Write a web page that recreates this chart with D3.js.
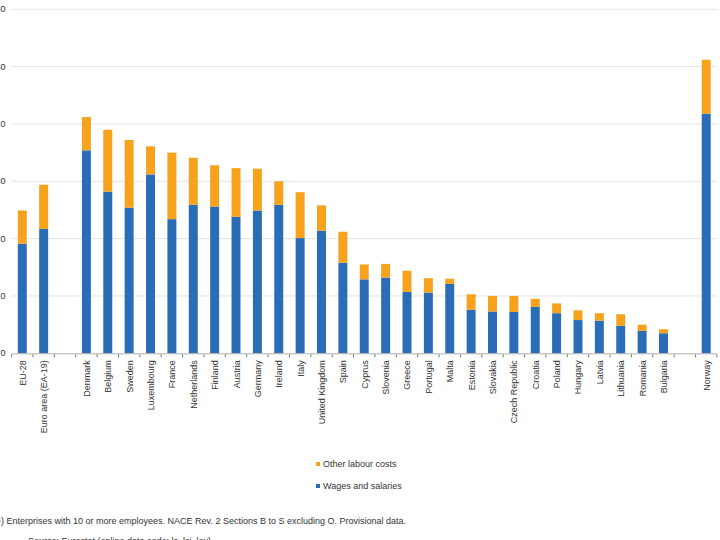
<!DOCTYPE html>
<html>
<head>
<meta charset="utf-8">
<script src="https://cdn.jsdelivr.net/npm/d3@7"></script>
<style>
  body { margin: 0; background: #fff; }
  svg { display: block; font-family: "Liberation Sans", Arial, sans-serif; }
  .grid line { stroke: #c8c8c8; stroke-dasharray: 1,1; }
  .lbl { font-size: 9px; fill: #333; }
</style>
</head>
<body>
<script>
// gaps in the category list are null
var categories = ["EU-28", "Euro area (EA-19)", null, "Denmark", "Belgium", "Sweden", "Luxembourg",
    "France", "Netherlands", "Finland", "Austria", "Germany", "Ireland", "Italy", "United Kingdom",
    "Spain", "Cyprus", "Slovenia", "Greece", "Portugal", "Malta", "Estonia", "Slovakia",
    "Czech Republic", "Croatia", "Poland", "Hungary", "Latvia", "Lithuania", "Romania", "Bulgaria",
    null, "Norway"];
var wages = [19.1, 21.7, null, 35.4, 28.2, 25.4, 31.2, 23.4, 25.9, 25.6, 23.8, 24.9, 25.9, 20.1, 21.4,
    15.8, 12.9, 13.2, 10.7, 10.6, 12.1, 7.6, 7.3, 7.2, 8.1, 7.0, 5.8, 5.7, 4.8, 3.9, 3.5, null, 41.8];
var totals = [24.9, 29.4, null, 41.2, 39.0, 37.2, 36.1, 35.0, 34.1, 32.8, 32.3, 32.2, 30.0, 28.1, 25.8,
    21.2, 15.5, 15.6, 14.4, 13.1, 13.0, 10.3, 10.0, 10.0, 9.5, 8.7, 7.5, 7.0, 6.8, 5.0, 4.2, null, 51.2];
var yTicks = [0, 10, 20, 30, 40, 50, 60];
var legendNames = ["Other labour costs", "Wages and salaries"];

var blue = "#2b6cb6";
var orange = "#f6a21d";

var svg = d3.select("body").append("svg")
    .attr("width", 720)
    .attr("height", 540);

var x = d3.scaleBand()
    .domain(d3.range(categories.length))
    .range([11.6, 716.9]);
var y = d3.scaleLinear()
    .domain([0, 60])
    .range([353.3, 9.3]);
var barWidth = x.bandwidth() * 0.42;

// gridlines
svg.append("g")
    .attr("class", "grid")
    .selectAll("line")
    .data(yTicks.slice(1))
    .enter()
    .append("line")
    .attr("x1", 11.6)
    .attr("x2", 716.9)
    .attr("y1", function (d) { return y(d); })
    .attr("y2", function (d) { return y(d); });

// y labels (cut off at the left edge, as in the original)
svg.append("g")
    .selectAll("text")
    .data(yTicks)
    .enter()
    .append("text")
    .attr("class", "lbl")
    .attr("x", 5.5)
    .attr("y", function (d) { return y(d) + 3; })
    .attr("text-anchor", "end")
    .text(function (d) { return d; });

var idx = d3.range(categories.length).filter(function (i) { return categories[i] !== null; });

// wages
svg.append("g")
    .selectAll("rect")
    .data(idx)
    .enter()
    .append("rect")
    .attr("fill", blue)
    .attr("x", function (i) { return x(i) + (x.bandwidth() - barWidth) / 2; })
    .attr("width", barWidth)
    .attr("y", function (i) { return y(wages[i]); })
    .attr("height", function (i) { return y(0) - y(wages[i]); });

// other labour costs on top
svg.append("g")
    .selectAll("rect")
    .data(idx)
    .enter()
    .append("rect")
    .attr("fill", orange)
    .attr("x", function (i) { return x(i) + (x.bandwidth() - barWidth) / 2; })
    .attr("width", barWidth)
    .attr("y", function (i) { return y(totals[i]); })
    .attr("height", function (i) { return y(wages[i]) - y(totals[i]); });

// x axis line and boundary ticks
svg.append("line")
    .attr("x1", 11.6).attr("x2", 716.9)
    .attr("y1", y(0) + 0.5).attr("y2", y(0) + 0.5)
    .attr("stroke", "#b0b0b0");

svg.append("g")
    .selectAll("line")
    .data(d3.range(categories.length + 1))
    .enter()
    .append("line")
    .attr("x1", function (i) { return 11.6 + i * x.step(); })
    .attr("x2", function (i) { return 11.6 + i * x.step(); })
    .attr("y1", y(0) + 1)
    .attr("y2", y(0) + 4)
    .attr("stroke", "#777");

svg.append("g")
    .selectAll("text")
    .data(idx)
    .enter()
    .append("text")
    .attr("class", "lbl")
    .attr("text-anchor", "end")
    .attr("transform", function (i) {
        return "translate(" + (x(i) + x.bandwidth() / 2 + 3.5) + "," + (y(0) + 7) + ") rotate(-90)";
    })
    .text(function (i) { return categories[i]; });

// legend
var legend = svg.append("g")
    .selectAll("g")
    .data(legendNames)
    .enter()
    .append("g")
    .attr("transform", function (d, i) { return "translate(316," + (467 + i * 22) + ")"; });
legend.append("rect")
    .attr("x", 0).attr("y", -5)
    .attr("width", 4).attr("height", 4)
    .attr("fill", function (d, i) { return i === 0 ? orange : blue; });
legend.append("text")
    .attr("class", "lbl")
    .attr("x", 7)
    .attr("y", 0)
    .text(function (d) { return d; });

// footnotes
svg.append("text")
    .attr("class", "lbl")
    .attr("x", -5)
    .attr("y", 524)
    .text("(\u00b9) Enterprises with 10 or more employees. NACE Rev. 2 Sections B to S excluding O. Provisional data.");
svg.append("text")
    .attr("class", "lbl")
    .attr("x", 28)
    .attr("y", 544)
    .text("Source: Eurostat (online data code: lc_lci_lev)");
</script>
</body>
</html>
